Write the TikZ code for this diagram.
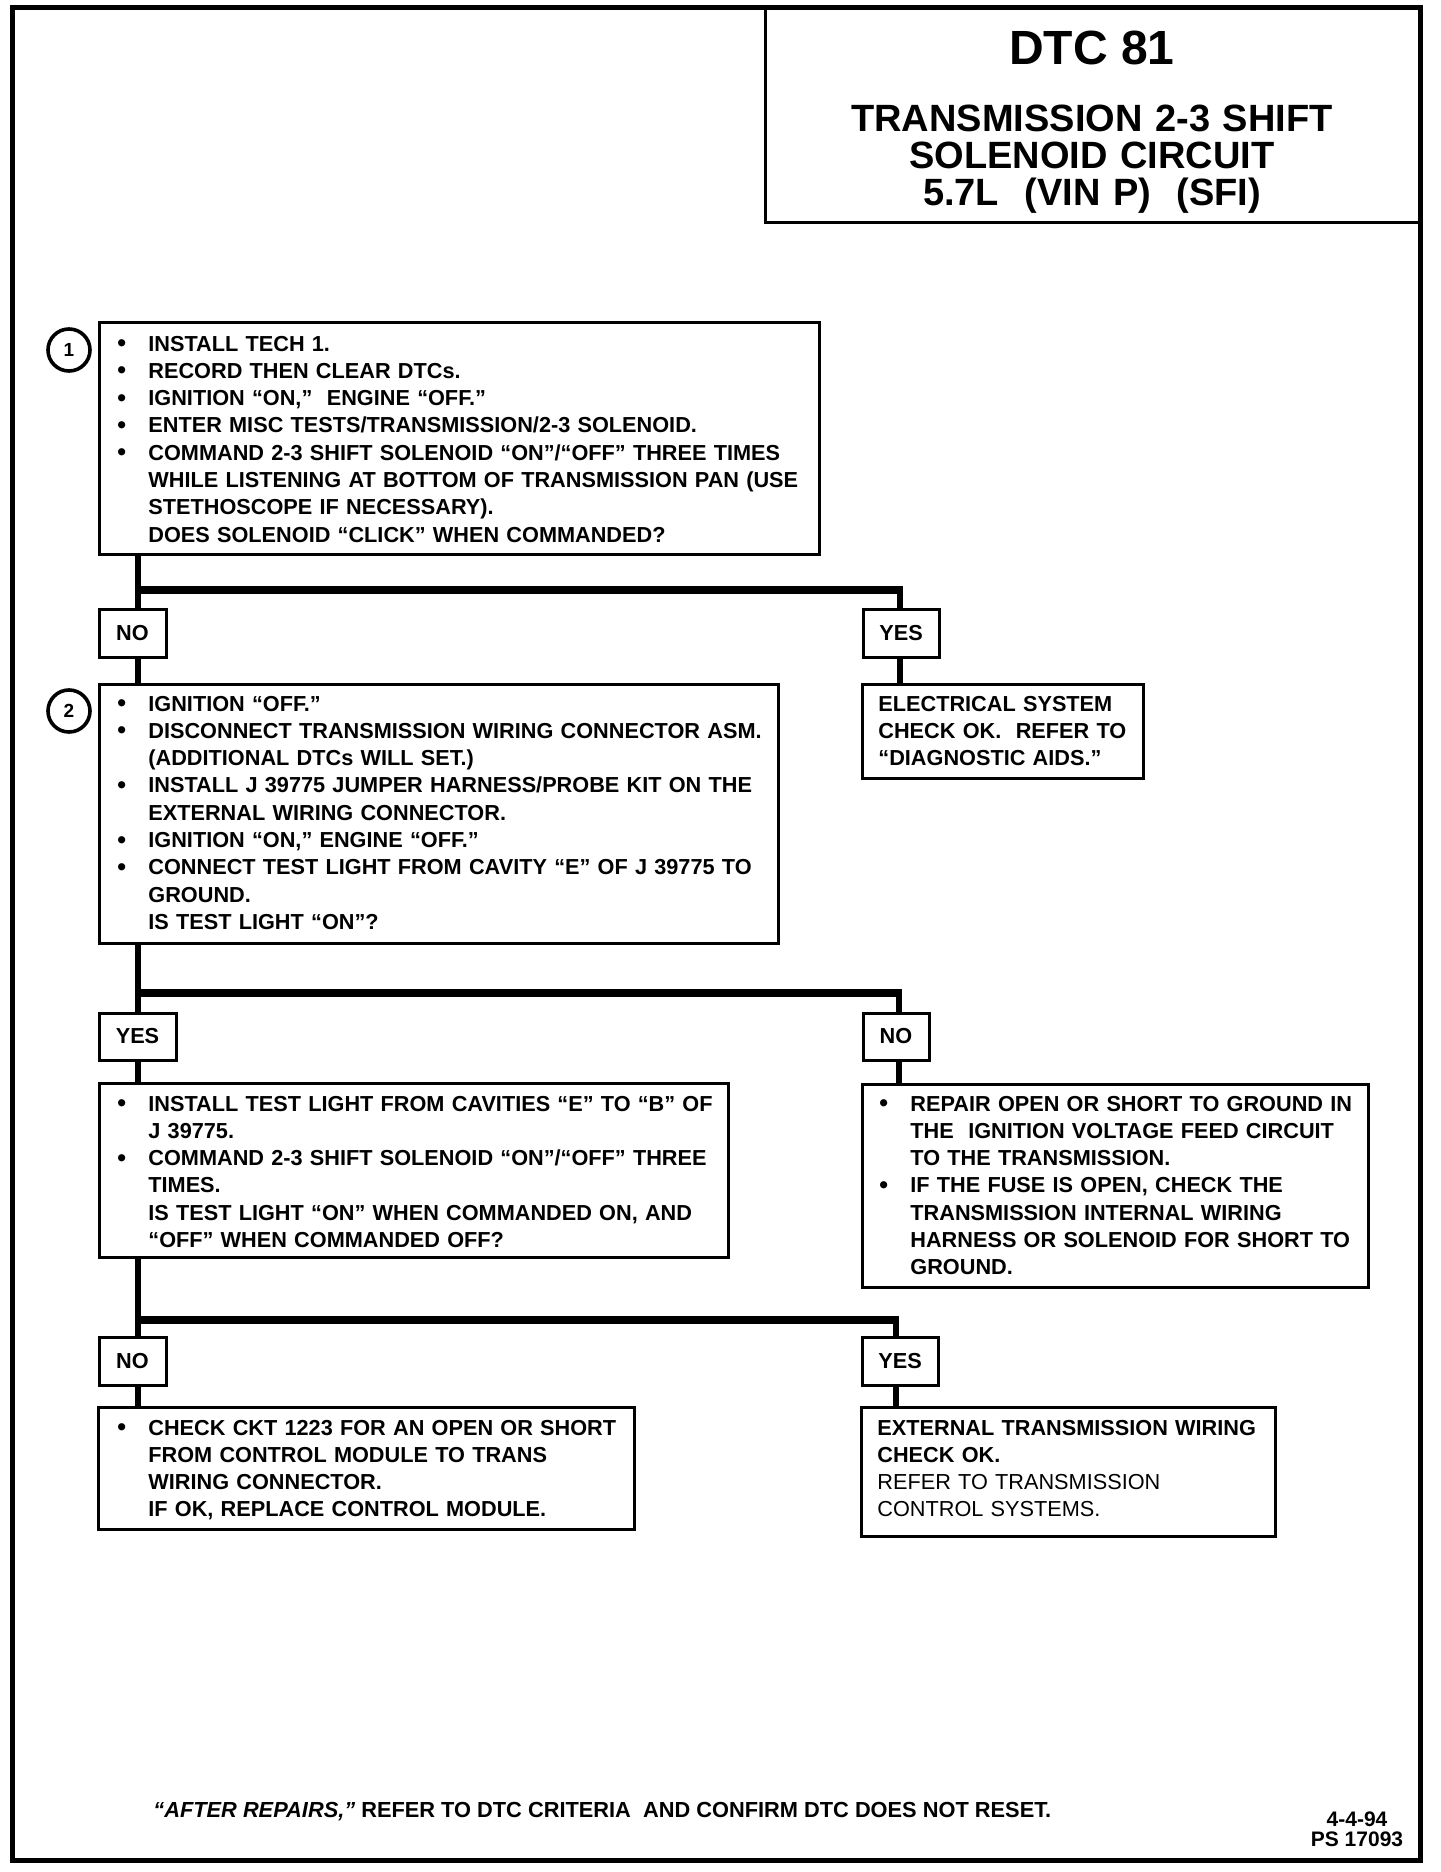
\documentclass[tikz,border=0pt]{standalone}
\usepackage{fontspec}
\setmainfont{Liberation Sans}
\newcommand\bdfont{\fontsize{10.85pt}{13.65pt}\selectfont\bfseries}
\newcommand\bul{\makebox[15.5pt][l]{\raisebox{-0.3pt}{\fontsize{12.5pt}{13pt}\selectfont •}}}
\newcommand\indt{\hspace*{15.5pt}}
\newcommand\mkbox[6]{\node[box, minimum width={(#4-#2)*0.5pt}, minimum height={(#5-#3)*0.5pt}] (#1) at ({(#2+#4)/2},{(#3+#5)/2}) {#6};}
\begin{document}
\begin{tikzpicture}[x=0.5pt,y=-0.5pt,
  box/.style={draw, rectangle, line width=1.5pt, inner sep=0pt, font=\bdfont},
  txt/.style={anchor=base west, inner sep=0pt, text width=500pt, align=left, font=\bdfont},
  num/.style={draw, circle, line width=1.8pt, minimum size=21pt, inner sep=0pt, font=\fontsize{9.5pt}{10pt}\selectfont\bfseries},
  vline/.style={line width=3pt},
  hbar/.style={line width=4pt}]
\useasboundingbox (0,0) rectangle (1440,1872);
% outer frame and title
\draw[line width=2.5pt] (12,8) rectangle (1420,1860);
\mkbox{ttl}{765}{8}{1420}{223}{}
\node[anchor=base, inner sep=0pt, font=\fontsize{24pt}{24pt}\selectfont\bfseries] (dtc) at (1092,65) {DTC 81};
\node[anchor=base, inner sep=0pt, text width=320pt, align=center, font=\fontsize{19pt}{18.5pt}\selectfont\bfseries] (sub) at (1092,132) {TRANSMISSION 2-3 SHIFT\\SOLENOID CIRCUIT\\5.7L\ \ (VIN P)\ \ (SFI)};
% boxes
\mkbox{b1}{99}{323}{819}{554}{}
\mkbox{noA}{99}{609}{166}{657}{NO}
\mkbox{yesA}{863}{609}{939}{657}{YES}
\mkbox{b2}{99}{684}{778}{943}{}
\mkbox{el}{862}{684}{1143}{778}{}
\mkbox{yesB}{99}{1013}{176}{1060}{YES}
\mkbox{noB}{863}{1013}{929}{1060}{NO}
\mkbox{b3}{99}{1083}{728}{1257}{}
\mkbox{rep}{862}{1084}{1368}{1287}{}
\mkbox{noC}{99}{1337}{166}{1385}{NO}
\mkbox{yesC}{862}{1337}{938}{1385}{YES}
\mkbox{chk}{98}{1407}{634}{1529}{}
\mkbox{ext}{861}{1407}{1275}{1536}{}
\node[num] (c1) at (69,350) {1};
\node[num] (c2) at (69,711) {2};
% texts
\node[txt] (t1) at (117,351) {\bul INSTALL TECH 1.\\
\bul RECORD THEN CLEAR DTCs.\\
\bul IGNITION “ON,”\ \ ENGINE “OFF.”\\
\bul ENTER MISC TESTS/TRANSMISSION/2-3 SOLENOID.\\
\bul COMMAND 2-3 SHIFT SOLENOID “ON”/“OFF” THREE TIMES\\
\indt WHILE LISTENING AT BOTTOM OF TRANSMISSION PAN (USE\\
\indt STETHOSCOPE IF NECESSARY).\\
\indt DOES SOLENOID “CLICK” WHEN COMMANDED?};
\node[txt] (t2) at (117,711) {\bul IGNITION “OFF.”\\
\bul DISCONNECT TRANSMISSION WIRING CONNECTOR ASM.\\
\indt (ADDITIONAL DTCs WILL SET.)\\
\bul INSTALL J 39775 JUMPER HARNESS/PROBE KIT ON THE\\
\indt EXTERNAL WIRING CONNECTOR.\\
\bul IGNITION “ON,” ENGINE “OFF.”\\
\bul CONNECT TEST LIGHT FROM CAVITY “E” OF J 39775 TO\\
\indt GROUND.\\
\indt IS TEST LIGHT “ON”?};
\node[txt] (tel) at (878,711) {ELECTRICAL SYSTEM\\
CHECK OK.\ \ REFER TO\\
“DIAGNOSTIC AIDS.”};
\node[txt] (t3) at (117,1111) {\bul INSTALL TEST LIGHT FROM CAVITIES “E” TO “B” OF\\
\indt J 39775.\\
\bul COMMAND 2-3 SHIFT SOLENOID “ON”/“OFF” THREE\\
\indt TIMES.\\
\indt IS TEST LIGHT “ON” WHEN COMMANDED ON, AND\\
\indt “OFF” WHEN COMMANDED OFF?};
\node[txt] (trep) at (879,1111) {\bul REPAIR OPEN OR SHORT TO GROUND IN\\
\indt THE\ \ IGNITION VOLTAGE FEED CIRCUIT\\
\indt TO THE TRANSMISSION.\\
\bul IF THE FUSE IS OPEN, CHECK THE\\
\indt TRANSMISSION INTERNAL WIRING\\
\indt HARNESS OR SOLENOID FOR SHORT TO\\
\indt GROUND.};
\node[txt] (tchk) at (117,1435) {\bul CHECK CKT 1223 FOR AN OPEN OR SHORT\\
\indt FROM CONTROL MODULE TO TRANS\\
\indt WIRING CONNECTOR.\\
\indt IF OK, REPLACE CONTROL MODULE.};
\node[txt] (text) at (877,1435) {EXTERNAL TRANSMISSION WIRING\\
CHECK OK.\\
{\mdseries REFER TO TRANSMISSION}\\
{\mdseries CONTROL SYSTEMS.}};
% connectors
\coordinate (jA) at (138,590); \coordinate (jAr) at (900,590);
\coordinate (jB) at (138,993); \coordinate (jBr) at (899,993);
\coordinate (jC) at (138,1320); \coordinate (jCr) at (896,1320);
\draw[vline] (b1.south -| jA) -- (noA.north -| jA);
\draw[hbar] ([xshift=-1.5pt]jA) -- ([xshift=1.5pt]jAr);
\draw[vline] (jAr) -- (yesA.north -| jAr);
\draw[vline] (noA.south -| jA) -- (b2.north -| jA);
\draw[vline] (yesA.south -| jAr) -- (el.north -| jAr);
\draw[vline] (b2.south -| jB) -- (yesB.north -| jB);
\draw[hbar] ([xshift=-1.5pt]jB) -- ([xshift=1.5pt]jBr);
\draw[vline] (jBr) -- (noB.north -| jBr);
\draw[vline] (yesB.south -| jB) -- (b3.north -| jB);
\draw[vline] (noB.south -| jBr) -- (rep.north -| jBr);
\draw[vline] (b3.south -| jC) -- (noC.north -| jC);
\draw[hbar] ([xshift=-1.5pt]jC) -- ([xshift=1.5pt]jCr);
\draw[vline] (jCr) -- (yesC.north -| jCr);
\draw[vline] (noC.south -| jC) -- (chk.north -| jC);
\draw[vline] (yesC.south -| jCr) -- (ext.north -| jCr);
% footer
\node[anchor=base west, inner sep=0pt, font=\fontsize{10.9pt}{12pt}\selectfont\bfseries] (ftr) at (153,1817) {\textit{“AFTER REPAIRS,”} REFER TO DTC CRITERIA\ \ AND CONFIRM DTC DOES NOT RESET.};
\node[anchor=base, inner sep=0pt, font=\fontsize{10.5pt}{12pt}\selectfont\bfseries] (date) at (1357,1826) {4-4-94};
\node[anchor=base, inner sep=0pt, font=\fontsize{10.5pt}{12pt}\selectfont\bfseries] (ps) at (1357,1846) {PS 17093};
\end{tikzpicture}
\end{document}
